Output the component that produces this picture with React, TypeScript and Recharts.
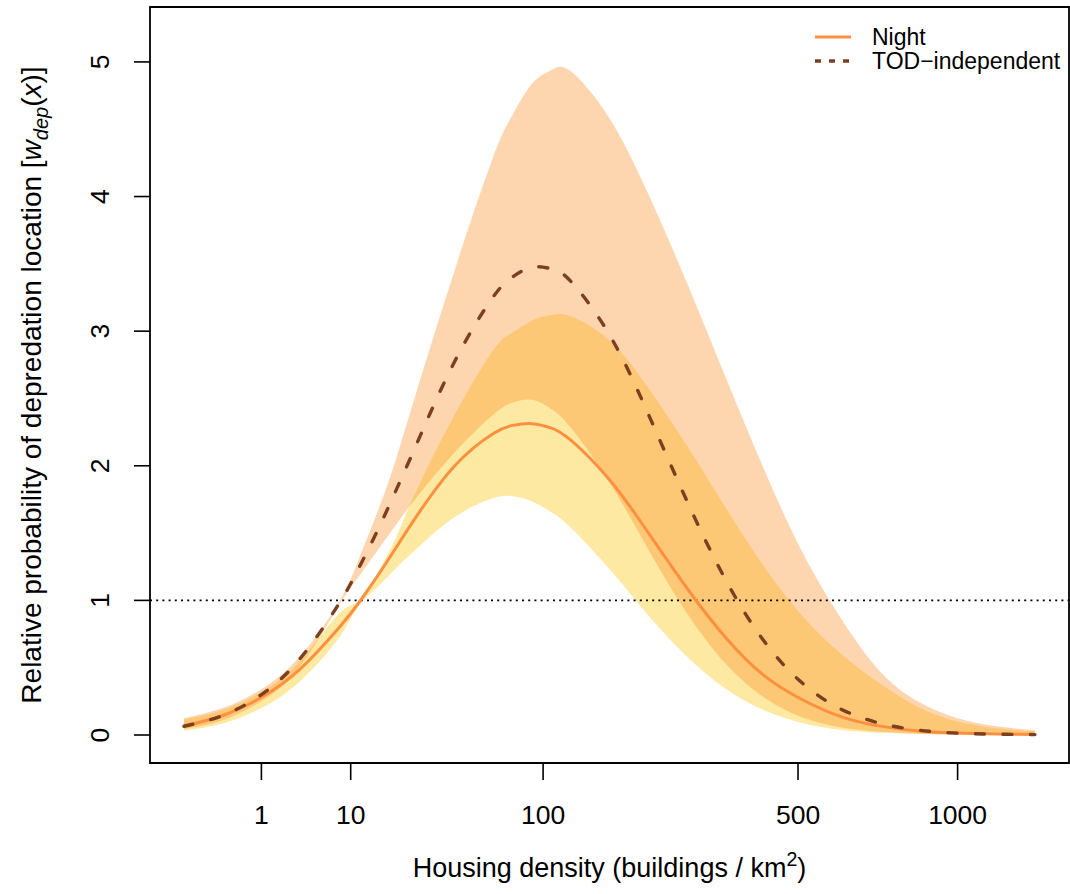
import React from "react";
import { ComposedChart, Area, Line, XAxis, YAxis, ReferenceLine, ReferenceArea } from "recharts";

// cube-root of housing density (x axis is drawn on a cube-root scale)
const T = [0, 0.5, 1, 1.5, 2, 2.25, 2.5, 2.75, 3, 3.5, 4, 4.25, 4.5, 4.75, 5, 5.5, 6, 6.5, 7, 7.5, 8, 8.5, 9, 9.5, 10, 10.5, 11];

const TOD = [0.065, 0.145, 0.3, 0.567, 0.973, 1.23, 1.517, 1.83, 2.153, 2.777, 3.257, 3.404, 3.475, 3.463, 3.37, 2.973, 2.386, 1.74, 1.154, 0.696, 0.382, 0.19, 0.087, 0.036, 0.014, 0.006, 0.003];
const TOD_HI = [0.125, 0.2, 0.34, 0.585, 0.985, 1.293, 1.656, 2.066, 2.54, 3.455, 4.3, 4.61, 4.84, 4.94, 4.93, 4.58, 4.02, 3.36, 2.66, 1.97, 1.35, 0.86, 0.47, 0.245, 0.125, 0.065, 0.035];
const TOD_LO = [0.045, 0.11, 0.25, 0.51, 0.96, 1.17, 1.37, 1.57, 1.76, 2.1, 2.38, 2.47, 2.49, 2.42, 2.283, 1.877, 1.38, 0.907, 0.531, 0.279, 0.13, 0.055, 0.024, 0.01, 0.004, 0.002, 0.001];

const NIGHT = [0.067, 0.145, 0.28, 0.49, 0.795, 0.975, 1.18, 1.4, 1.62, 2.0, 2.24, 2.3, 2.313, 2.28, 2.19, 1.896, 1.504, 1.092, 0.725, 0.441, 0.26, 0.135, 0.066, 0.03, 0.014, 0.007, 0.004];
const NIGHT_HI = [0.115, 0.185, 0.32, 0.55, 0.9, 0.99, 1.2, 1.48, 1.81, 2.38, 2.86, 2.99, 3.08, 3.12, 3.11, 2.93, 2.58, 2.15, 1.69, 1.25, 0.88, 0.6, 0.38, 0.205, 0.1, 0.05, 0.027];
const NIGHT_LO = [0.032, 0.085, 0.2, 0.4, 0.72, 0.955, 1.1, 1.245, 1.38, 1.62, 1.76, 1.773, 1.735, 1.655, 1.54, 1.234, 0.89, 0.583, 0.343, 0.183, 0.088, 0.038, 0.016, 0.007, 0.003, 0.002, 0.001];

const X_TICK_LABELS = [1, 10, 100, 500, 1000];
const Y_TICKS = [0, 1, 2, 3, 4, 5];

const rows = T.map((t, i) => ({
  t,
  tod: TOD[i],
  night: NIGHT[i],
  todBand: [TOD_LO[i], TOD_HI[i]],
  nightBand: [NIGHT_LO[i], NIGHT_HI[i]],
}));

const FONT = "'Liberation Sans', Arial, Helvetica, sans-serif";
const X_DOMAIN: [number, number] = [-0.44, 11.44];
const Y_DOMAIN: [number, number] = [-0.208, 5.408];

const XTick = (props: any) => {
  const { x, index } = props;
  return (
    <text x={x} y={824} textAnchor="middle" fontSize={26.5} fontFamily={FONT} fill="#000">
      {X_TICK_LABELS[index]}
    </text>
  );
};

const YTick = (props: any) => {
  const { y, payload } = props;
  return (
    <text x={109} y={y} transform={`rotate(-90 109 ${y})`} textAnchor="middle" fontSize={26.5} fontFamily={FONT} fill="#000">
      {payload.value}
    </text>
  );
};

const XTitle = (props: any) => {
  const vb = props.viewBox || { x: 150, width: 919 };
  const cx = vb.x + vb.width / 2;
  return (
    <text x={cx} y={877} textAnchor="middle" fontSize={27} fontFamily={FONT} fill="#000">
      Housing density (buildings / km
      <tspan fontSize={19.5} dy={-11}>2</tspan>
      <tspan dy={11}>)</tspan>
    </text>
  );
};

const YTitle = (props: any) => {
  const vb = props.viewBox || { y: 7, height: 756 };
  const cy = vb.y + vb.height / 2;
  const cx = 41;
  return (
    <text x={cx} y={cy} transform={`rotate(-90 ${cx} ${cy})`} textAnchor="middle" fontSize={28} fontFamily={FONT} fill="#000">
      Relative probability of depredation location [
      <tspan fontStyle="italic">w</tspan>
      <tspan fontStyle="italic" fontSize={20} dy={7}>dep</tspan>
      <tspan dy={-7}>(</tspan>
      <tspan fontStyle="italic">x</tspan>
      <tspan>)]</tspan>
    </text>
  );
};

export default function App() {
  return (
    <div style={{ position: "absolute", left: 0, top: 0, width: 1070, height: 894, background: "#fff" }}>
      <ComposedChart width={1070} height={894} data={rows} margin={{ top: 7, right: 1, bottom: 0, left: 0 }}>
        <XAxis
          dataKey="t"
          type="number"
          domain={X_DOMAIN}
          allowDataOverflow
          ticks={X_TICK_LABELS.map((v) => Math.cbrt(v))}
          interval={0}
          height={131}
          axisLine={false}
          tickLine={{ stroke: "#000", strokeWidth: 1.6 }}
          tickSize={17}
          tick={<XTick />}
          label={{ content: <XTitle /> } as any}
        />
        <YAxis
          type="number"
          domain={Y_DOMAIN}
          allowDataOverflow
          ticks={Y_TICKS}
          interval={0}
          width={150}
          axisLine={false}
          tickLine={{ stroke: "#000", strokeWidth: 1.6 }}
          tickSize={16}
          tick={<YTick />}
          label={{ content: <YTitle /> } as any}
        />
        <Area
          dataKey="nightBand"
          type="natural"
          stroke="none"
          fill="#FDE9A1"
          fillOpacity={1}
          isAnimationActive={false}
          dot={false}
          activeDot={false}
        />
        <Area
          dataKey="todBand"
          type="natural"
          stroke="none"
          fill="#FA922C"
          fillOpacity={0.375}
          isAnimationActive={false}
          dot={false}
          activeDot={false}
        />
        <ReferenceLine y={1} stroke="#000" strokeWidth={1.6} strokeDasharray="2 4.2" />
        <Line
          dataKey="night"
          type="natural"
          stroke="#FD9040"
          strokeWidth={3}
          dot={false}
          activeDot={false}
          isAnimationActive={false}
        />
        <Line
          dataKey="tod"
          type="natural"
          stroke="#7D3F22"
          strokeWidth={3.4}
          strokeDasharray="9 18.5"
          strokeLinecap="round"
          dot={false}
          activeDot={false}
          isAnimationActive={false}
        />
        <ReferenceArea
          x1={X_DOMAIN[0]}
          x2={X_DOMAIN[1]}
          y1={Y_DOMAIN[0]}
          y2={Y_DOMAIN[1]}
          fill="none"
          fillOpacity={0}
          stroke="#000"
          strokeWidth={1.8}
          ifOverflow="visible"
        />
      </ComposedChart>
      <svg width={1070} height={894} style={{ position: "absolute", left: 0, top: 0, pointerEvents: "none" }}>
        <line x1={815} y1={37} x2={851} y2={37} stroke="#FD9040" strokeWidth={3} />
        <text x={872} y={45} fontSize={23} fontFamily={FONT} fill="#000">Night</text>
        <line x1={815} y1={61} x2={851} y2={61} stroke="#7D3F22" strokeWidth={3.4} strokeDasharray="6 8" />
        <text x={872} y={69} fontSize={23} fontFamily={FONT} fill="#000">{"TOD\u2212independent"}</text>
      </svg>
    </div>
  );
}
